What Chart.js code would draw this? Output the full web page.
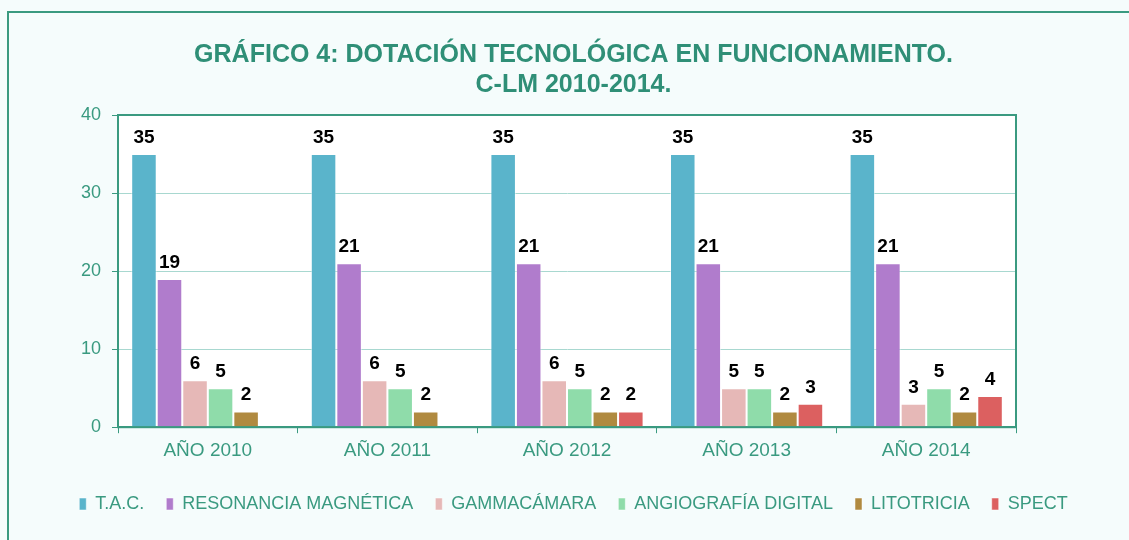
<!DOCTYPE html>
<html>
<head>
<meta charset="utf-8">
<script src="https://cdn.jsdelivr.net/npm/chart.js@4.4.1/dist/chart.umd.min.js"></script>
<style>
  html, body { margin: 0; padding: 0; background: #f5fcfc; overflow: hidden; }
  #frame { position: absolute; left: 7px; top: 11px; width: 1140px; height: 560px; border: 2px solid #3a9a80; }
  #wrap { position: absolute; left: 0; top: 0; width: 1129px; height: 540px; }
</style>
</head>
<body>
<div id="frame"></div>
<div id="wrap"><canvas id="grafico"></canvas></div>
<script>
var anios = ['AÑO 2010', 'AÑO 2011', 'AÑO 2012', 'AÑO 2013', 'AÑO 2014'];
var tac = [35, 35, 35, 35, 35];
var resonancia = [19, 21, 21, 21, 21];
var gammacamara = [6, 6, 6, 5, 3];
var angiografia = [5, 5, 5, 5, 5];
var litotricia = [2, 2, 2, 2, 2];
var spect = [null, null, 2, 3, 4];
var ticksY = [0, 10, 20, 30, 40];

var verde = '#3a9a80';
var fuente = '"Liberation Sans", Arial, sans-serif';

// fondo blanco del area de trazado + marco verde
var fondoArea = {
	id: 'fondoArea',
	beforeDraw: function(chart) {
		var a = chart.chartArea, c = chart.ctx;
		c.save();
		c.fillStyle = '#ffffff';
		c.fillRect(a.left, a.top, a.right - a.left, a.bottom - a.top);
		c.restore();
	},
	afterDraw: function(chart) {
		var a = chart.chartArea, c = chart.ctx;
		c.save();
		c.strokeStyle = verde;
		c.lineWidth = 2;
		c.strokeRect(a.left, a.top, a.right - a.left, a.bottom - a.top);
		c.restore();
	}
};

// etiquetas de valor encima de cada barra
var etiquetas = {
	id: 'etiquetas',
	afterDatasetsDraw: function(chart) {
		var c = chart.ctx;
		c.save();
		c.font = 'bold 19px ' + fuente;
		c.fillStyle = '#000000';
		c.textAlign = 'center';
		c.textBaseline = 'bottom';
		chart.data.datasets.forEach(function(ds, i) {
			var meta = chart.getDatasetMeta(i);
			meta.data.forEach(function(bar, j) {
				var v = ds.data[j];
				if (v === null || v === undefined) return;
				c.fillText(v, bar.x, bar.y - 7);
			});
		});
		c.restore();
	}
};

function serie(label, data, color) {
	return {
		label: label,
		data: data,
		backgroundColor: color,
		borderColor: 'rgba(255,255,255,0.5)',
		borderWidth: 1,
		barPercentage: 1,
		categoryPercentage: 0.853
	};
}

var chartdata = {
	labels: anios,
	datasets: [
		serie('T.A.C.', tac, '#5ab4cb'),
		serie('RESONANCIA MAGNÉTICA', resonancia, '#b07ccc'),
		serie('GAMMACÁMARA', gammacamara, '#e6b8b7'),
		serie('ANGIOGRAFÍA DIGITAL', angiografia, '#8fdcaa'),
		serie('LITOTRICIA', litotricia, '#b08a40'),
		serie('SPECT', spect, '#dc6060')
	]
};

var ctx = document.getElementById('grafico');

var grafico = new Chart(ctx, {
	type: 'bar',
	data: chartdata,
	plugins: [fondoArea, etiquetas],
	options: {
		responsive: true,
		maintainAspectRatio: false,
		animation: false,
		layout: { padding: { left: 18, right: 0, top: 10, bottom: 17 } },
		plugins: {
			title: {
				display: true,
				text: ['GRÁFICO 4: DOTACIÓN TECNOLÓGICA EN FUNCIONAMIENTO.', 'C-LM 2010-2014.'],
				color: '#2f8f77',
				font: { family: fuente, size: 25, weight: 'bold', lineHeight: 1.2 },
				padding: { top: 30, bottom: 15 }
			},
			legend: {
				position: 'bottom',
				labels: {
					color: verde,
					boxWidth: 7,
					boxHeight: 12,
					padding: 22,
					font: { family: fuente, size: 18 }
				}
			},
			tooltip: { enabled: false }
		},
		scales: {
			x: {
				grid: { drawOnChartArea: false, drawTicks: true, tickLength: 6, offset: true, color: verde },
				border: { color: verde, width: 2 },
				ticks: { color: verde, padding: 6, font: { family: fuente, size: 19 } },
				afterFit: function(axis) { axis.height += 5; }
			},
			y: {
				min: 0,
				max: 40,
				afterBuildTicks: function(axis) {
					axis.ticks = ticksY.map(function(v) { return { value: v }; });
				},
				afterFit: function(axis) { axis.width = 100; },
				grid: { color: '#a8d8d0', tickColor: verde, tickLength: 6 },
				border: { color: verde, width: 2 },
				ticks: { color: verde, padding: 11, font: { family: fuente, size: 18 } }
			},
			// eje vacio a la derecha, solo para reservar el margen
			margen: {
				type: 'linear',
				position: 'right',
				grid: { display: false },
				border: { display: false },
				ticks: { display: false },
				afterFit: function(axis) { axis.width = 113; }
			}
		}
	}
});
</script>
</body>
</html>
